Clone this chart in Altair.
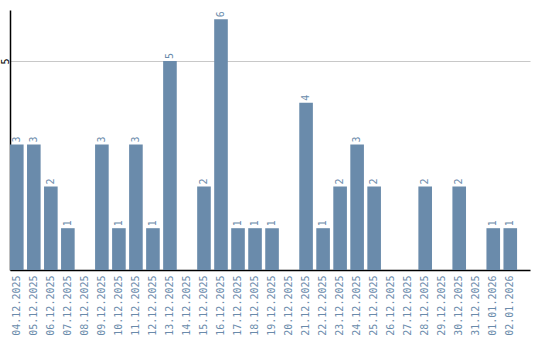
import altair as alt
import pandas as pd

dates = ["04.12.2025", "05.12.2025", "06.12.2025", "07.12.2025", "08.12.2025",
         "09.12.2025", "10.12.2025", "11.12.2025", "12.12.2025", "13.12.2025",
         "14.12.2025", "15.12.2025", "16.12.2025", "17.12.2025", "18.12.2025",
         "19.12.2025", "20.12.2025", "21.12.2025", "22.12.2025", "23.12.2025",
         "24.12.2025", "25.12.2025", "26.12.2025", "27.12.2025", "28.12.2025",
         "29.12.2025", "30.12.2025", "31.12.2025", "01.01.2026", "02.01.2026"]
counts = [3, 3, 2, 1, 0, 3, 1, 3, 1, 5, 0, 2, 6, 1, 1, 1, 0, 4, 1, 2,
          3, 2, 0, 0, 2, 0, 2, 0, 1, 1]

df = pd.DataFrame({"date": dates, "count": counts})
df_lab = df[df["count"] > 0]

BAR = "#6a8bab"
FONT = "DejaVu Sans Mono"

x = alt.X("date:N", sort=dates, title=None,
          scale=alt.Scale(paddingInner=0.2, paddingOuter=0.38, align=0),
          axis=alt.Axis(labelAngle=270, labelAlign="right", labelBaseline="middle",
                        labelColor=BAR, labelFont=FONT, labelFontSize=10,
                        labelPadding=5, ticks=False, domainColor="#000000",
                        domainWidth=1.5, labelOverlap=False))
y = alt.Y("count:Q", title=None,
          scale=alt.Scale(domain=[0, 6.22], nice=False),
          axis=alt.Axis(values=[5], ticks=False, labelAngle=270, labelAlign="center",
                        labelBaseline="alphabetic", labelPadding=2, labelFont=FONT,
                        labelFontSize=10, labelColor="#000000", gridColor="#c8c8c8",
                        gridWidth=1.2, domainColor="#000000", domainWidth=1.5))

bars = alt.Chart(df).mark_bar(color=BAR).encode(x=x, y=y)
labels = alt.Chart(df_lab).mark_text(angle=270, align="left", baseline="middle",
                                     dx=2, font=FONT, fontSize=10, color=BAR).encode(
    x=alt.X("date:N", sort=dates), y="count:Q", text="count:Q")

chart = (bars + labels).properties(
    width=520, height=260,
    autosize=alt.AutoSizeParams(type="none"),
    padding={"left": 10, "top": 10, "right": 10, "bottom": 70},
).configure_view(stroke=None)

chart.save("out.html", embed_options={"renderer": "svg", "actions": False})
